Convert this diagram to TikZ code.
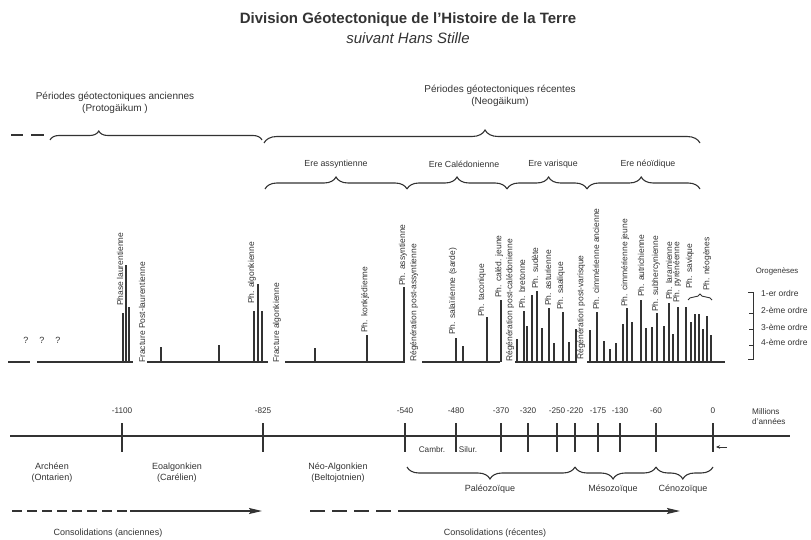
\documentclass[tikz,border=0pt]{standalone}
\usepackage{fontspec}
\setmainfont{Liberation Sans}
\usetikzlibrary{decorations.pathreplacing,arrows.meta}
\definecolor{ink}{gray}{0.2}
\begin{document}
\begin{tikzpicture}[x=1pt,y=-1pt,
  every node/.style={text=ink, inner sep=0pt},
  lab/.style={font=\fontsize{9}{11}\selectfont, align=center},
  biglab/.style={font=\fontsize{10}{12}\selectfont, align=center},
  eralab/.style={font=\fontsize{8.8}{10}\selectfont},
  small/.style={font=\fontsize{8.2}{10}\selectfont},
  vlab/.style={rotate=90, anchor=west, font=\fontsize{8.5}{9}\selectfont},
  base/.style={draw=ink, line width=1.5pt},
  bar/.style={draw=ink, line width=1.1pt},
  tickline/.style={draw=ink, line width=1.2pt},
  curly/.style={draw=ink, line width=1.1pt, decorate, decoration={brace, amplitude=#1}},
  curly/.default=10pt,
]
\useasboundingbox (0,0) rectangle (811,540);

% ---------- titles ----------
\node[font=\bfseries\fontsize{15}{17}\selectfont] (title) at (408,20) {Division Géotectonique de l'Histoire de la Terre};
\node[font=\itshape\fontsize{15}{17}\selectfont] (subtitle) at (408,38) {suivant Hans Stille};

% ---------- period labels and braces ----------
\node[biglab] (anc) at (115,102.5) {Périodes géotectoniques anciennes\\(Protogäikum )};
\node[biglab] (rec) at (500,96) {Périodes géotectoniques récentes\\(Neogäikum)};

\coordinate (d1a) at (11,135); \coordinate (d1b) at (23,135);
\coordinate (d2a) at (31,135); \coordinate (d2b) at (44,135);
\draw[base] (d1a) -- (d1b);
\draw[base] (d2a) -- (d2b);
\coordinate (ob1) at (50,140); \coordinate (ob2) at (262,140);
\draw[curly=9pt, decoration={aspect=0.23}] (ob1) -- (ob2);
\coordinate (nb1) at (264,143); \coordinate (nb2) at (700,143);
\draw[curly=13pt, decoration={aspect=0.507}] (nb1) -- (nb2);

\node[eralab] (eass) at (336,164) {Ere assyntienne};
\node[eralab] (ecal) at (464,164) {Ere Calédonienne};
\node[eralab] (evar) at (553,164) {Ere varisque};
\node[eralab] (eneo) at (648,164) {Ere néoïdique};
\coordinate (e0) at (265,189); \coordinate (e1) at (407,189);
\coordinate (e2) at (507,189); \coordinate (e3) at (587,189);
\coordinate (e4) at (700,189);
\draw[curly=12pt, decoration={aspect=0.5}] (e0) -- (e1);
\draw[curly=12pt, decoration={aspect=0.5}] (e1) -- (e2);
\draw[curly=12pt, decoration={aspect=0.52}] (e2) -- (e3);
\draw[curly=12pt, decoration={aspect=0.48}] (e3) -- (e4);

% ---------- orogeny baseline ----------
\foreach \a/\b in {8/30, 37/133, 147/268, 285/405, 422/500, 515/577, 587/725}
  \draw[base] (\a,362) -- (\b,362);

\node[font=\fontsize{9}{10}\selectfont] (q1) at (26,340) {?};
\node[font=\fontsize{9}{10}\selectfont] (q2) at (42,340) {?};
\node[font=\fontsize{9}{10}\selectfont] (q3) at (58,340) {?};

% bars (x / top)
\foreach \x/\t in {123/313, 126/265, 129/307, 161/347, 219/345,
  254/311, 258/284, 262/311, 315/348, 367/335, 404/287,
  456/338, 463/346, 487/317, 501/300,
  517/339, 524/311, 527/326, 532/295, 537/291, 542/328, 549/308, 554/343, 563/312, 569/342, 576/329,
  590/330, 597/312, 604/341, 610/349, 616/343, 623/324, 627/308, 632/322, 641/300, 646/328,
  652/327, 657/313, 664/326, 669/303, 673/334, 678/307, 686/307, 691/322, 695/314, 699/314,
  703/329, 707/316, 711/335}
  \draw[bar] (\x,362) -- (\x,\t);

% vertical labels
\node[vlab] (laur) at (120,306) {Phase laurentienne};
\node[vlab] (fpl) at (142,363) {Fracture Post-laurentienne};
\node[vlab] (alg) at (252,304) {Ph. algonkienne};
\node[vlab] (falg) at (277,363) {Fracture algonkienne};
\node[vlab] (konk) at (365,333) {Ph. konkjédienne};
\node[vlab] (assy) at (403,286) {Ph. assyntienne};
\node[vlab] (rpa) at (414,362) {Régénération post-assyntienne};
\node[vlab] (sal) at (453,335) {Ph. salaïrienne (sarde)};
\node[vlab] (tac) at (482,317) {Ph. taconique};
\node[vlab] (calj) at (499,298) {Ph. caléd. jeune};
\node[vlab] (rpc) at (510,362) {Régénération post-calédonienne};
\node[vlab] (bret) at (522,309) {Ph. bretonne};
\node[vlab] (sud) at (535,289) {Ph. sudète};
\node[vlab] (ast) at (548,306) {Ph. asturienne};
\node[vlab] (saal) at (561,310) {Ph. saalique};
\node[vlab] (rpv) at (581,360) {Régénération post-varisque};
\node[vlab] (cima) at (596,310) {Ph. cimmérienne ancienne};
\node[vlab] (cimj) at (625,307) {Ph. cimmérienne jeune};
\node[vlab] (autr) at (641,297) {Ph. autrichienne};
\node[vlab] (subh) at (656,312) {Ph. subhercynienne};
\node[vlab] (lara) at (669,300) {Ph. laramienne};
\node[vlab] (pyr) at (677,303) {Ph. pyrénéenne};
\node[vlab] (sav) at (690,289) {Ph. savique};
\node[vlab] (neog) at (707,291) {Ph. néogènes};
\coordinate (sb1) at (688,300); \coordinate (sb2) at (712,300);
\draw[curly=6pt, line width=0.9pt] (sb1) -- (sb2);

% order scale
\node[font=\fontsize{7.8}{9}\selectfont] (orog) at (777,271) {Orogenèses};
\coordinate (s0) at (748,292); \coordinate (s1) at (753,292);
\coordinate (s2) at (753,359); \coordinate (s3) at (748,359);
\draw[draw=ink, line width=1pt] (s0) -- (s1) -- (s2) -- (s3);
\foreach \y in {313,329,345} \draw[draw=ink, line width=1pt] (749,\y) -- (753,\y);
\node[small, anchor=west, font=\fontsize{8.5}{9}\selectfont] (o1) at (761,293) {1-er ordre};
\node[small, anchor=west, font=\fontsize{8.5}{9}\selectfont] (o2) at (761,310) {2-ème ordre};
\node[small, anchor=west, font=\fontsize{8.5}{9}\selectfont] (o3) at (761,327) {3-ème ordre};
\node[small, anchor=west, font=\fontsize{8.5}{9}\selectfont] (o4) at (761,342) {4-ème ordre};

% ---------- timeline ----------
\coordinate (ax0) at (10,436); \coordinate (ax1) at (790,436);
\draw[base] (ax0) -- (ax1);
\foreach \x/\l in {122/-1100, 263/-825, 405/-540, 456/-480, 501/-370, 528/-320, 557/-250,
  575/-220, 598/-175, 620/-130, 656/-60, 713/0} {
  \draw[tickline] (\x,423) -- (\x,452);
  \node[small] at (\x,411) {\l};
}
\node[small, anchor=north west, align=left] (mill) at (752,408) {Millions\\d'années};
\coordinate (sa0) at (727,447); \coordinate (sa1) at (716,447);
\draw[draw=ink, line width=0.8pt, -{Stealth[length=4pt,width=3.5pt]}] (sa0) -- (sa1);

\node[small] (cambr) at (432,450) {Cambr.};
\node[small] (silur) at (468,450) {Silur.};

\node[lab] (arch) at (52,473) {Archéen\\(Ontarien)};
\node[lab] (eoal) at (177,473) {Eoalgonkien\\(Carélien)};
\node[lab] (neoal) at (338,473) {Néo-Algonkien\\(Beltojotnien)};

\coordinate (p0) at (575,467); \coordinate (p1) at (407,467);
\coordinate (m0) at (656,467); \coordinate (c0) at (713,467);
\draw[curly=12pt, decoration={aspect=0.506}] (p0) -- (p1);
\draw[curly=12pt, decoration={aspect=0.53}] (m0) -- (p0);
\draw[curly=12pt, decoration={aspect=0.53}] (c0) -- (m0);
\node[lab] (pal) at (490,489) {Paléozoïque};
\node[lab] (mes) at (613,489) {Mésozoïque};
\node[lab] (cen) at (683,489) {Cénozoïque};

% ---------- consolidations ----------
\coordinate (ca0) at (12,511); \coordinate (ca1) at (130,511); \coordinate (ca2) at (262,511);
\draw[draw=ink, line width=1.5pt, dash pattern=on 10pt off 5pt] (ca0) -- (ca1);
\draw[draw=ink, line width=1.5pt, -{Stealth[length=13pt,width=6pt,inset=2pt]}] (ca1) -- (ca2);
\coordinate (cr0) at (310,511); \coordinate (cr1) at (400,511); \coordinate (cr2) at (680,511);
\draw[draw=ink, line width=1.5pt, dash pattern=on 15pt off 7pt] (cr0) -- (cr1);
\draw[draw=ink, line width=1.5pt, -{Stealth[length=13pt,width=6pt,inset=2pt]}] (cr1) -- (cr2);
\node[lab] (cons1) at (108,533) {Consolidations (anciennes)};
\node[lab] (cons2) at (495,533) {Consolidations (récentes)};
\end{tikzpicture}
\end{document}
